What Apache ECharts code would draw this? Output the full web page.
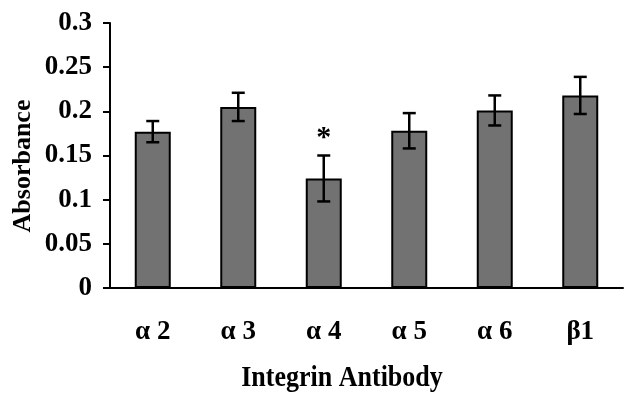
<!DOCTYPE html>
<html>
<head>
<meta charset="utf-8">
<script src="https://cdn.jsdelivr.net/npm/echarts@6/dist/echarts.min.js"></script>
<style>
  html, body { margin: 0; padding: 0; background: #fff; }
  #chart { width: 632px; height: 394px; }
</style>
</head>
<body>
<div id="chart"></div>
<script>
// values
var antibodies = ['α 2', 'α 3', 'α 4', 'α 5', 'α 6', 'β1'];
var absorbance = [0.177, 0.205, 0.124, 0.178, 0.201, 0.218];
var errors = [0.012, 0.016, 0.026, 0.020, 0.017, 0.021];
var marks = ['', '', '*', '', '', ''];

var serif = '"Liberation Serif", "DejaVu Serif", serif';

var errData = [];
for (var i = 0; i < antibodies.length; i++) {
    errData.push([i, absorbance[i] - errors[i], absorbance[i] + errors[i], marks[i]]);
}

var chart = echarts.init(document.getElementById('chart'));
var option = {
    animation: false,
    grid: { left: 110, right: 9, top: 23, bottom: 106 },
    xAxis: {
        type: 'category',
        data: antibodies,
        axisLine: { lineStyle: { color: '#000', width: 2 } },
        axisTick: { length: 7, lineStyle: { color: '#000', width: 2 } },
        axisLabel: {
            margin: 31,
            color: '#000',
            fontFamily: serif,
            fontWeight: 'bold',
            fontSize: 27
        }
    },
    yAxis: {
        type: 'value',
        min: 0,
        max: 0.3,
        interval: 0.05,
        splitLine: { show: false },
        axisLine: { show: true, lineStyle: { color: '#000', width: 2 } },
        axisTick: { show: true, length: 7, lineStyle: { color: '#000', width: 2 } },
        axisLabel: {
            margin: 18,
            color: '#000',
            fontFamily: serif,
            fontWeight: 'bold',
            fontSize: 27
        }
    },
    graphic: [
        {
            type: 'text',
            x: 23, y: 166,
            rotation: Math.PI / 2,
            style: {
                text: 'Absorbance',
                fill: '#000',
                font: 'bold 26px ' + serif,
                textAlign: 'center',
                textVerticalAlign: 'middle'
            }
        },
        {
            type: 'text',
            x: 342, y: 379,
            scaleY: 1.1,
            style: {
                text: 'Integrin Antibody',
                fill: '#000',
                font: 'bold 26px ' + serif,
                textAlign: 'center',
                textVerticalAlign: 'middle'
            }
        }
    ],
    series: [
        {
            type: 'bar',
            data: absorbance,
            barWidth: 36,
            itemStyle: { color: '#727272', borderColor: '#000', borderWidth: 2 }
        },
        {
            type: 'custom',
            data: errData,
            z: 10,
            renderItem: function (params, api) {
                var lo = api.coord([api.value(0), api.value(1)]);
                var hi = api.coord([api.value(0), api.value(2)]);
                var x = lo[0];
                var half = 6.5;
                var style = { stroke: '#000', lineWidth: 2.5 };
                var kids = [
                    { type: 'line', shape: { x1: x, y1: hi[1], x2: x, y2: lo[1] }, style: style },
                    { type: 'line', shape: { x1: x - half, y1: hi[1], x2: x + half, y2: hi[1] }, style: style },
                    { type: 'line', shape: { x1: x - half, y1: lo[1], x2: x + half, y2: lo[1] }, style: style }
                ];
                var note = errData[params.dataIndex][3];
                if (note) {
                    kids.push({
                        type: 'text',
                        x: x, y: hi[1] - 17,
                        style: {
                            text: note,
                            fill: '#000',
                            font: 'bold 30px ' + serif,
                            textAlign: 'center',
                            textVerticalAlign: 'middle'
                        }
                    });
                }
                return { type: 'group', children: kids };
            }
        }
    ]
};
chart.setOption(option);
</script>
</body>
</html>
